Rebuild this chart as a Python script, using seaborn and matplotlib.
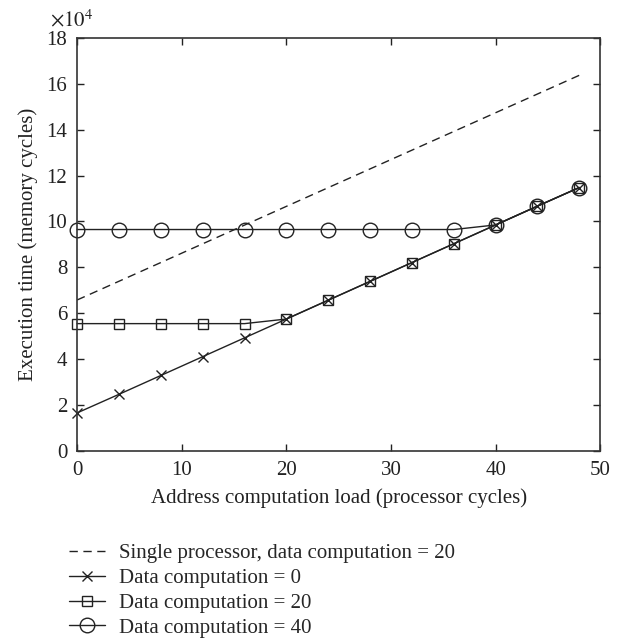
import numpy as np
import pandas as pd
import matplotlib
matplotlib.use("Agg")
import matplotlib.pyplot as plt
import seaborn as sns

# data (execution time in units of 1e4 memory cycles)
load = [0, 4, 8, 12, 16, 20, 24, 28, 32, 36, 40, 44, 48]
single_x = [0, 48]
single_y = [6.58, 16.37]
dc0 = [1.66, 2.47, 3.29, 4.11, 4.93, 5.75, 6.57, 7.39, 8.21, 9.03, 9.85, 10.67, 11.48]
dc20 = [5.55, 5.55, 5.55, 5.55, 5.55, 5.75, 6.57, 7.39, 8.21, 9.03, 9.85, 10.67, 11.48]
dc40 = [9.65, 9.65, 9.65, 9.65, 9.65, 9.65, 9.65, 9.65, 9.65, 9.65, 9.85, 10.67, 11.48]

sns.set_style("ticks")
plt.rcParams['font.family'] = ['Liberation Serif', 'DejaVu Serif']
plt.rcParams['mathtext.fontset'] = 'stix'

ink = '#222222'
fig = plt.figure(figsize=(6.22, 6.42), dpi=100)
ax = fig.add_axes([0.124, 0.2975, 0.841, 0.6435])

df_single = pd.DataFrame({'x': single_x, 'y': single_y})
df = pd.DataFrame({'x': load, 'dc0': dc0, 'dc20': dc20, 'dc40': dc40})

sns.lineplot(data=df_single, x='x', y='y', ax=ax, color=ink, lw=1.0,
             linestyle=(0, (6, 4)),
             label='Single processor, data computation = 20')
sns.lineplot(data=df, x='x', y='dc0', ax=ax, color=ink, lw=1.0,
             marker='x', markersize=7, markeredgecolor=ink, markeredgewidth=1.0,
             clip_on=False, label='Data computation = 0')
sns.lineplot(data=df, x='x', y='dc20', ax=ax, color=ink, lw=1.0,
             marker='s', markersize=7.5, markerfacecolor='none', markeredgecolor=ink,
             markeredgewidth=1.0, clip_on=False, label='Data computation = 20')
sns.lineplot(data=df, x='x', y='dc40', ax=ax, color=ink, lw=1.0,
             marker='o', markersize=10.5, markerfacecolor='none', markeredgecolor=ink,
             markeredgewidth=1.0, clip_on=False, label='Data computation = 40')

ax.set_xlim(0, 50)
ax.set_ylim(0, 18)
ax.set_xticks(range(0, 51, 10))
ax.set_yticks(range(0, 19, 2))
ax.tick_params(direction='in', top=True, right=True, labelsize=15, length=5, width=1,
               color=ink, labelcolor=ink, pad=7)
for s in ax.spines.values():
    s.set_linewidth(1.2)
    s.set_color('#333333')

ax.set_xlabel('Address computation load (processor cycles)', fontsize=15, color=ink, labelpad=6)
ax.set_ylabel('Execution time (memory cycles)', fontsize=15, color=ink, labelpad=6)
ax.text(-0.01, 1.015, r'$\times 10^4$', transform=ax.transAxes, fontsize=15,
        color=ink, ha='center', va='bottom')

handles, labels = ax.get_legend_handles_labels()
ax.get_legend().remove()
leg = fig.legend(handles, labels, loc='upper left', bbox_to_anchor=(0.098, 0.166),
                 frameon=False, fontsize=15, handlelength=1.7, handletextpad=0.67,
                 labelspacing=0.25, borderaxespad=0, markerscale=1.0)

fig.savefig('out.png', dpi=100)
